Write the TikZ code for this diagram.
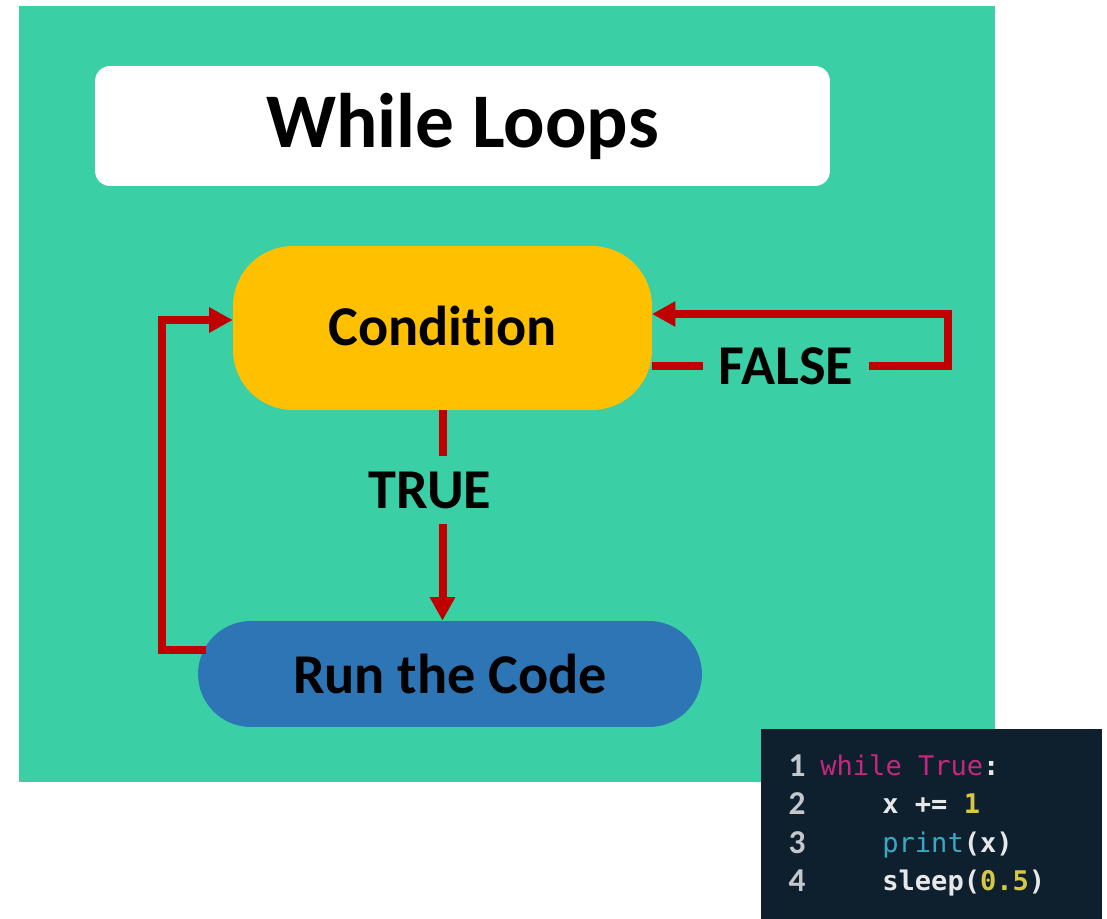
\documentclass[tikz,border=0pt]{standalone}
\usepackage{fontspec}
\setmainfont[Ligatures=NoCommon]{Carlito}
\setmonofont{DejaVu Sans Mono}
\usetikzlibrary{arrows.meta,positioning,calc}

\definecolor{slidegreen}{HTML}{3ACFA5}
\definecolor{condyellow}{HTML}{FFC000}
\definecolor{runblue}{HTML}{2E75B6}
\definecolor{flowred}{HTML}{C00000}
\definecolor{editorbg}{HTML}{0E202E}
\definecolor{kwpink}{HTML}{C4287D}
\definecolor{fncyan}{HTML}{3AA8C4}
\definecolor{numyellow}{HTML}{D6C744}
\definecolor{codewhite}{HTML}{E6E8EA}
\definecolor{linegray}{HTML}{C4C8CC}

\tikzset{>={Triangle[length=0.47cm,width=0.48cm]}}
\tikzset{
  flow/.style={draw=flowred,line width=0.16cm},
  bigtext/.style={font=\bfseries\fontsize{32}{36}\selectfont},
  codeline/.style={anchor=base west,inner sep=0pt,text=codewhite,font=\ttfamily\bfseries\fontsize{15.4}{18}\selectfont},
  linenum/.style={anchor=base,inner sep=0pt,text=linegray,font=\bfseries\fontsize{19}{20}\selectfont}
}

\begin{document}
\begin{tikzpicture}[x=0.02cm,y=-0.02cm]
    \useasboundingbox (0,0) rectangle (1107,919);
    \fill [slidegreen] (19,6) rectangle (995,782);

    % title bar
    \node (title) [fill=white,rounded corners=0.3cm,minimum width=14.7cm,minimum height=2.4cm,
      font=\bfseries\fontsize{44}{50}\selectfont] at (462.5,126) {While Loops};

    % the two boxes
    \node (cond) [fill=condyellow,rounded corners=1.2cm,minimum width=8.38cm,minimum height=3.28cm,bigtext]
      at (442.5,328) {\raisebox{0.1cm}{Condi\kern0pt tion}};
    \node (run) [fill=runblue,rounded corners=1.06cm,minimum width=10.08cm,minimum height=2.12cm,bigtext]
      at (450,674) {Run the Code};

    % branch labels
    \node (truelbl) [bigtext,inner sep=0.31cm] at (430,490) {TRUE};
    \node (falselbl) [bigtext,inner xsep=0.31cm] at (786,366) {FALSE};

    \coordinate (fturn) at (948,366);
    \coordinate (fin) at (652,314);
    \coordinate (runout) at (206,650);
    \coordinate (lturn) at (162,320);

    \draw [flow] (cond.south) -- (cond.south |- truelbl.north);
    \draw [flow,->] (cond.south |- truelbl.south) -- (cond.south |- run.north);
    \draw [flow] (cond.east |- falselbl) -- (falselbl.west);
    \draw [flow,->] (falselbl.east) -- (falselbl.east -| fturn) |- (fin);
    \draw [flow,->] (runout) -| (lturn) -- (cond.west |- lturn);

    % editor snippet
    \fill [editorbg] (761,729) rectangle (1102,919);
    \node (n1) [linenum] at (797,776) {1};
    \node (n2) [linenum] at (797,814) {2};
    \node (n3) [linenum] at (797,853) {3};
    \node (n4) [linenum] at (797,891) {4};
    \node (line1) [codeline] at (820,775) {\textcolor{kwpink}{\mdseries while True}:};
    \node (line2) [codeline] at (882,813) {x += \textcolor{numyellow}{1}};
    \node (line3) [codeline] at (882,852) {\textcolor{fncyan}{\mdseries print}(x)};
    \node (line4) [codeline] at (882,890) {sleep(\textcolor{numyellow}{0.5})};
\end{tikzpicture}
\end{document}
